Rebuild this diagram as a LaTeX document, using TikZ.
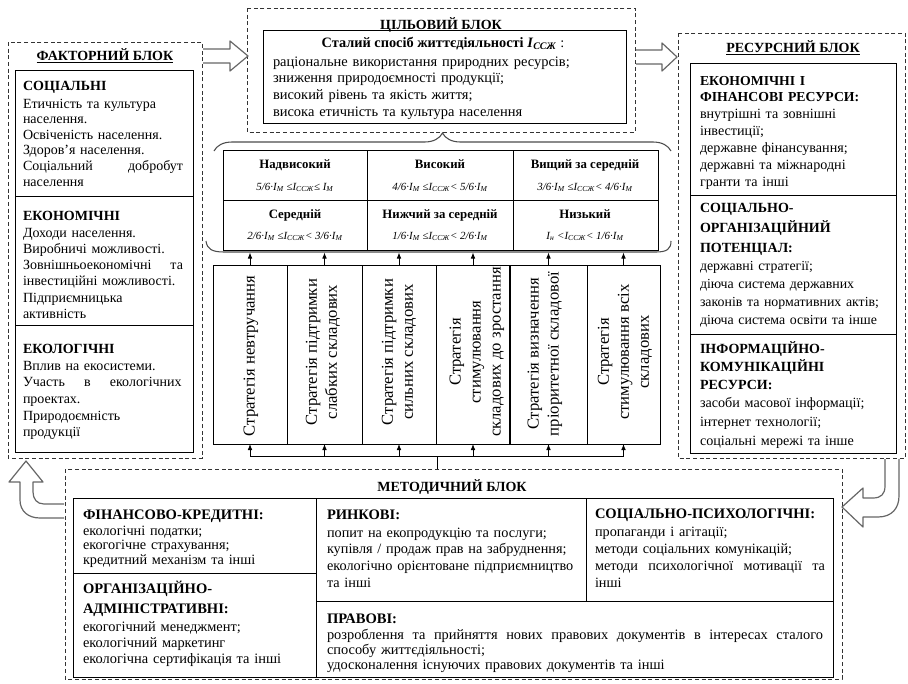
\documentclass[tikz,border=0pt]{standalone}
\usepackage{fontspec}
\setmainfont{Liberation Serif}
\usetikzlibrary{arrows.meta,decorations.pathreplacing}
\newcommand{\fs}[2]{\fontsize{#1}{#2}\selectfont}
\newcommand{\jline}[2]{\makebox[#1][s]{\spaceskip=0.3em plus 1fil\relax #2}}
\newcommand{\sub}[1]{\textsubscript{#1}}
\begin{document}
\begin{tikzpicture}[x=0.75pt,y=-0.75pt,
  dashbox/.style={draw=black!80, dash pattern=on 3pt off 2pt, line width=0.7pt},
  box/.style={draw=black, line width=0.75pt},
  hollow/.style={draw=black!60, fill=white, line width=0.9pt, line join=round},
  txt/.style={anchor=base west, inner sep=0pt, outer sep=0pt, align=left},
  ctr/.style={anchor=base, inner sep=0pt, outer sep=0pt, align=center},
  hd/.style={font=\fs{10.5}{15}\bfseries},
  mhd/.style={font=\fs{10.9}{15}\bfseries},
  lvl/.style={anchor=base, inner sep=0pt, font=\fs{9.6}{11}\bfseries},
  frm/.style={anchor=base, inner sep=0pt, font=\fs{8.2}{10}\itshape},
  strat/.style={rotate=90, anchor=center, inner sep=0pt, align=center, font=\fs{12.5}{15}},
  up/.style={-{Latex[length=4.5pt,width=3.5pt]}, line width=0.6pt},
]
\useasboundingbox (0,0) rectangle (908,683);

% ---------------- FACTOR BLOCK ----------------
\draw[dashbox] (8,42) rectangle (202,458);
\node[ctr, font=\fs{10.5}{12}\bfseries] (ftitle) at (105,60) {\underline{ФАКТОРНИЙ БЛОК}};
\draw[box] (15,70) rectangle (193,452);
\draw[box] (15,196) -- (193,196);
\draw[box] (15,325) -- (193,325);
\node[txt, hd] (fsoc) at (23,90) {СОЦІАЛЬНІ};
\node[txt, text width=121.5pt, font=\fs{10.5}{11.7}] (fsocb) at (23,108)
  {Етичність та культура\\ населення.\\ Освіченість населення.\\ Здоров’я населення.\\ \jline{120pt}{Соціальний добробут}\\ населення};
\node[txt, hd] (feco) at (23,220) {ЕКОНОМІЧНІ};
\node[txt, text width=121.5pt, font=\fs{10.5}{12.2}] (fecob) at (23,237)
  {Доходи населення.\\ Виробничі можливості.\\ \jline{120pt}{Зовнішньоекономічні та}\\ інвестиційні можливості.\\ Підприємницька\\ активність};
\node[txt, hd] (fecl) at (23,353) {ЕКОЛОГІЧНІ};
\node[txt, text width=121.5pt, font=\fs{10.5}{12.5}] (feclb) at (23,370)
  {Вплив на екосистеми.\\ \jline{119pt}{Участь в екологічних}\\ проектах.\\ Природоємність\\ продукції};

% ---------------- TARGET BLOCK ----------------
\draw[dashbox] (247,8) rectangle (635,132);
\draw[box] (263,30) rectangle (626,123);
\node[ctr, font=\fs{10.5}{12}\bfseries] (ttitle) at (441,29) {ЦІЛЬОВИЙ БЛОК};
\node[ctr, font=\fs{10.75}{12}] (tsub) at (443,47) {\textbf{Сталий спосіб життєдіяльності \textit{I}\sub{\textit{ССЖ}}} :};
\node[txt, text width=265pt, font=\fs{10.85}{12.5}] (tbody) at (273,66)
  {раціональне використання природних ресурсів;\\ зниження природоємності продукції;\\ високий рівень та якість життя;\\ висока етичність та культура населення};

% ---------------- RESOURCE BLOCK ----------------
\draw[dashbox] (678,33) rectangle (905,458);
\node[ctr, font=\fs{10.5}{12}\bfseries] (rtitle) at (793,52) {\underline{РЕСУРСНИЙ БЛОК}};
\draw[box] (690,63) rectangle (896,453);
\draw[box] (690,195) -- (896,195);
\draw[box] (690,334) -- (896,334);
\node[txt, text width=148pt, font=\fs{10.3}{12}\bfseries] (rfin) at (700,85) {ЕКОНОМІЧНІ І\\ ФІНАНСОВІ РЕСУРСИ:};
\node[txt, text width=148pt, font=\fs{10.6}{12.75}] (rfinb) at (700,118)
  {внутрішні та зовнішні\\ інвестиції;\\ державне фінансування;\\ державні та міжнародні\\ гранти та інші};
\node[txt, text width=148pt, font=\fs{10.5}{15}\bfseries] (rorg) at (700,212) {СОЦІАЛЬНО-\\ ОРГАНІЗАЦІЙНИЙ\\ ПОТЕНЦІАЛ:};
\node[txt, text width=148pt, font=\fs{10.4}{13.7}] (rorgb) at (700,270)
  {державні стратегії;\\ діюча система державних\\ законів та нормативних актів;\\ діюча система освіти та інше};
\node[txt, text width=148pt, font=\fs{10.5}{13.5}\bfseries] (rinf) at (700,353) {ІНФОРМАЦІЙНО-\\ КОМУНІКАЦІЙНІ\\ РЕСУРСИ:};
\node[txt, text width=148pt, font=\fs{10.6}{14.6}] (rinfb) at (700,407)
  {засоби масової інформації;\\ інтернет технології;\\ соціальні мережі та інше};

% ---------------- LEVEL TABLE ----------------
\draw[box] (223,150) rectangle (658,250);
\draw[box] (223,200) -- (658,200);
\draw[box] (367,150) -- (367,250);
\draw[box] (513,150) -- (513,250);
\node[lvl] (l1) at (295,168) {Надвисокий};
\node[lvl] (l2) at (440,168) {Високий};
\node[lvl] (l3) at (585,168) {Вищий за середній};
\node[lvl] (l4) at (295,218) {Середній};
\node[lvl] (l5) at (440,218) {Нижчий за середній};
\node[lvl] (l6) at (585,218) {Низький};
\node[frm] (f1) at (295,190) {5/6·I\sub{M} ≤I\sub{ССЖ}≤ I\sub{M}};
\node[frm] (f2) at (440,190) {4/6·I\sub{M} ≤I\sub{ССЖ}< 5/6·I\sub{M}};
\node[frm] (f3) at (585,190) {3/6·I\sub{M} ≤I\sub{ССЖ}< 4/6·I\sub{M}};
\node[frm] (f4) at (295,239) {2/6·I\sub{M} ≤I\sub{ССЖ}< 3/6·I\sub{M}};
\node[frm] (f5) at (440,239) {1/6·I\sub{M} ≤I\sub{ССЖ}< 2/6·I\sub{M}};
\node[frm] (f6) at (585,239) {I\sub{н} <I\sub{ССЖ}< 1/6·I\sub{M}};
\draw[black!70, line width=0.8pt, decorate, decoration={brace, amplitude=13.5pt}] (214,151) -- (671,151);
\draw[black!70, line width=0.8pt] (206,241) .. controls (207,249) and (212,252) .. (224,252) -- (656,252) .. controls (667,252) and (671,249) .. (671,241);

% ---------------- STRATEGIES ----------------
\draw[box] (213,265) rectangle (660,444);
\draw[box] (287,265) -- (287,444);
\draw[box] (362,265) -- (362,444);
\draw[box] (436,265) -- (436,444);
\draw[draw=black, line width=1.4pt] (510,265) -- (510,444);
\draw[box] (587,265) -- (587,444);
\node[strat] (s1) at (251,356) {Стратегія невтручання};
\node[strat] (s2) at (323,352) {Стратегія підтримки\\ слабких  складових};
\node[strat] (s3) at (399,352) {Стратегія  підтримки\\ сильних  складових};
\node[strat] (s4) at (477,352) {Стратегія\\ стимулювання\\ складових до зростання};
\node[strat] (s5) at (545,354) {Стратегія визначення\\ пріоритетної складової};
\node[strat] (s6) at (625,352) {Стратегія\\ стимулювання всіх\\ складових};

\foreach \i/\cx in {1/250,2/324.5,3/399,4/473,5/548.5,6/623.5}{
  \coordinate (tb\i) at (\cx,265);
  \coordinate (tt\i) at (\cx,252.5);
  \coordinate (bb\i) at (\cx,444);
  \coordinate (bl\i) at (\cx,456);
  \draw[up] (tb\i) -- (tt\i);
  \draw[up] (bl\i) -- (bb\i);
}
\draw[line width=0.7pt] (bl1) -- (bl6);
\coordinate (mjoin) at (437,456);
\coordinate (mtop) at (437,469);
\draw[line width=0.7pt] (mjoin) -- (mtop);

% ---------------- METHODICAL BLOCK ----------------
\draw[dashbox] (65,469) rectangle (842,679);
\node[ctr, font=\fs{10.5}{12}\bfseries] (mtitle) at (452,491) {МЕТОДИЧНИЙ БЛОК};
\draw[box] (73,498) rectangle (833,677);
\draw[box] (316,498) -- (316,677);
\draw[box] (73,573) -- (316,573);
\draw[box] (316,601) -- (833,601);
\draw[box] (586,498) -- (586,601);
\node[txt, mhd] (mfin) at (83,519) {ФІНАНСОВО-КРЕДИТНІ:};
\node[txt, text width=175pt, font=\fs{10.7}{10.9}] (mfinb) at (83,535)
  {екологічні податки;\\ екогогічне страхування;\\ кредитний механізм та інші};
\node[txt, text width=175pt, mhd] (morg) at (83,593) {ОРГАНІЗАЦІЙНО-\\ АДМІНІСТРАТИВНІ:};
\node[txt, text width=175pt, font=\fs{10.8}{12}] (morgb) at (83,631)
  {екогогічний менеджмент;\\ екологічний маркетинг\\ екологічна сертифікація та інші};
\node[txt, mhd] (mmkt) at (327,519) {РИНКОВІ:};
\node[txt, text width=195pt, font=\fs{10.7}{12.5}] (mmktb) at (327,537)
  {попит на екопродукцію та послуги;\\ купівля / продаж прав на забруднення;\\ екологічно орієнтоване підприємництво\\ та інші};
\node[txt, mhd] (mlaw) at (327,623) {ПРАВОВІ:};
\node[txt, text width=374pt, font=\fs{10.8}{11.6}] (mlawb) at (327,639)
  {\jline{372pt}{розроблення та прийняття нових правових документів в інтересах сталого}\\ способу життєдіяльності;\\ удосконалення існуючих правових документів та інші};
\node[txt, mhd] (mpsy) at (595,518) {СОЦІАЛЬНО-ПСИХОЛОГІЧНІ:};
\node[txt, text width=174pt, font=\fs{10.7}{12.75}] (mpsyb) at (595,536)
  {пропаганди і агітації;\\ методи соціальних комунікацій;\\ \jline{172.5pt}{методи психологічної мотивації та}\\ інші};

% ---------------- HOLLOW BLOCK ARROWS ----------------
\draw[hollow] (203,49) -- (230,49) -- (230,41) -- (248,56) -- (230,71) -- (230,63) -- (203,63);
\draw[hollow] (636,50) -- (662,50) -- (662,43) -- (677,57) -- (662,71) -- (662,64) -- (636,64);
\draw[hollow] (885,459) -- (885,486) .. controls (885,494) and (881,498) .. (873,498) -- (863,498) -- (863,488) -- (842,507) -- (863,527) -- (863,517) -- (878,517) .. controls (892,517) and (899,508) .. (899,496) -- (899,459);
\draw[hollow] (64,504) -- (44,504) .. controls (37,504) and (33,499) .. (33,492) -- (33,482) -- (43,482) -- (26,461) -- (9,482) -- (20,482) -- (20,500) .. controls (20,511) and (28,518) .. (40,518) -- (64,518);
\end{tikzpicture}
\end{document}
